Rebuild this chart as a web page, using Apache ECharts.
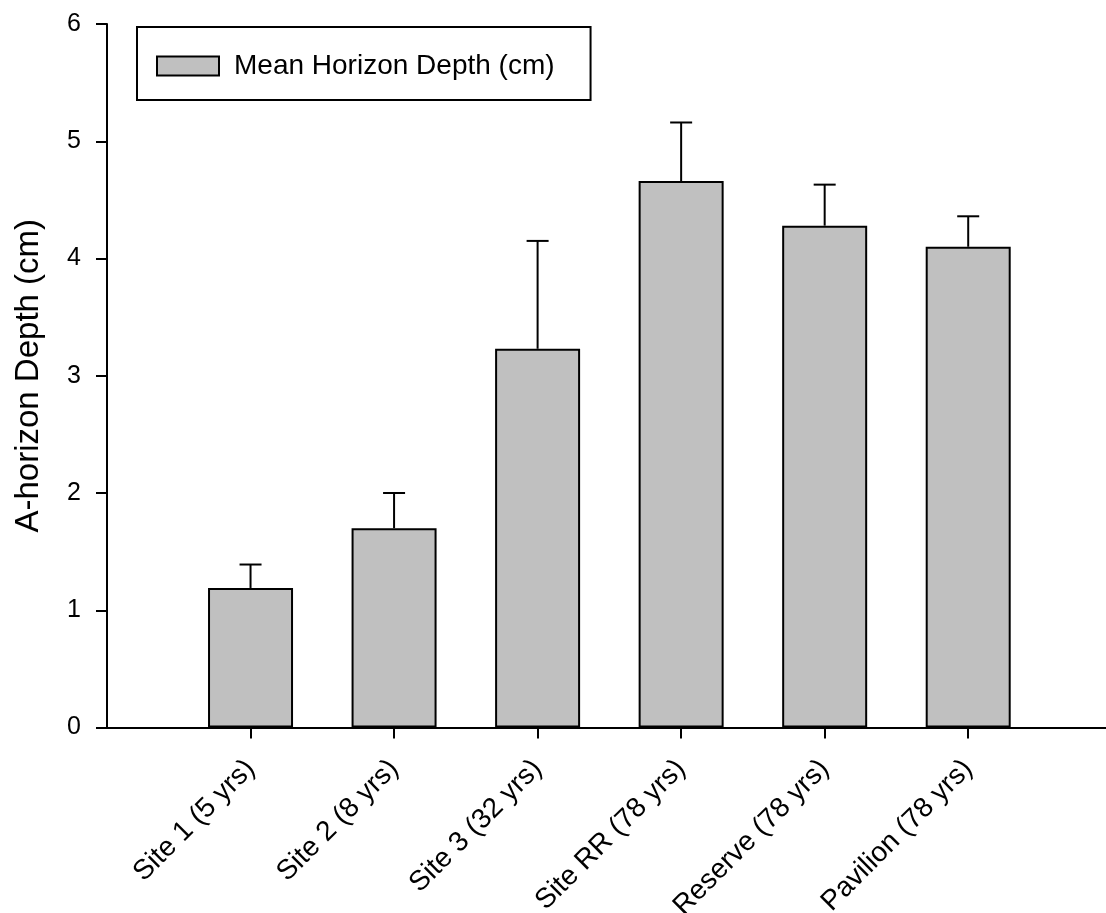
<!DOCTYPE html>
<html>
<head>
<meta charset="utf-8">
<script src="https://cdn.jsdelivr.net/npm/echarts@6/dist/echarts.min.js"></script>
<style>
html,body{margin:0;padding:0;background:#fff;}
#chart{width:1106px;height:913px;}
</style>
</head>
<body>
<div id="chart"></div>
<script>
const categories = ['Site 1 (5 yrs)', 'Site 2 (8 yrs)', 'Site 3 (32 yrs)', 'Site RR (78 yrs)', 'Reserve (78 yrs)', 'Pavilion (78 yrs)'];
const positions = [1, 2, 3, 4, 5, 6];
const means = [1.19, 1.70, 3.23, 4.66, 4.28, 4.10];
const errors = [0.20, 0.30, 0.92, 0.50, 0.35, 0.26];
const yTicks = [0, 1, 2, 3, 4, 5, 6];
const seriesName = 'Mean Horizon Depth (cm)';
const yTitle = 'A-horizon Depth (cm)';

const FONT = "'Liberation Sans', Arial, sans-serif";
const chart = echarts.init(document.getElementById('chart'), null, {renderer: 'canvas'});

const barData = positions.map((p, i) => [p, means[i]]);
const errData = positions.map((p, i) => [p, means[i], means[i] + errors[i]]);

chart.setOption({
  animation: false,
  backgroundColor: '#fff',
  grid: {left: 107, right: 0, top: 24, bottom: 185.5, containLabel: false, outerBoundsMode: 'none'},
  legend: {
    left: 137, top: 27,
    orient: 'horizontal',
    data: [{name: seriesName, icon: 'rect'}],
    itemWidth: 62, itemHeight: 19,
    borderColor: '#000', borderWidth: 2,
    padding: [25, 36, 20, 19],
    textStyle: {fontFamily: FONT, fontSize: 28, color: '#000', padding: [0, 0, 0, 10]}
  },
  xAxis: {
    type: 'value', min: 0, max: 6.96,
    splitLine: {show: false},
    axisLine: {show: true, onZero: false, lineStyle: {color: '#000', width: 2}},
    axisTick: {show: true, customValues: positions, length: 11, lineStyle: {color: '#000', width: 2}},
    axisLabel: {
      customValues: positions,
      rotate: 45, margin: 37,
      fontFamily: FONT, fontSize: 28, color: '#000',
      formatter: v => categories[positions.indexOf(Math.round(v))] || ''
    }
  },
  yAxis: {
    type: 'value', min: 0, max: 6, interval: 1,
    name: yTitle, nameLocation: 'middle', nameGap: 62,
    nameTextStyle: {fontFamily: FONT, fontSize: 33, color: '#000'},
    splitLine: {show: false},
    axisLine: {show: true, lineStyle: {color: '#000', width: 2}},
    axisTick: {show: true, length: 11, lineStyle: {color: '#000', width: 2}},
    axisLabel: {margin: 26, fontFamily: FONT, fontSize: 25, color: '#000',
      formatter: v => yTicks.includes(v) ? String(v) : ''}
  },
  series: [
    {
      name: seriesName, type: 'bar', data: barData, barWidth: 85,
      itemStyle: {color: '#c0c0c0', borderColor: '#000', borderWidth: 2}
    },
    {
      name: 'err', type: 'custom', data: errData, z: 5,
      renderItem: function (params, api) {
        const x = api.value(0);
        const p0 = api.coord([x, api.value(1)]);
        const p1 = api.coord([x, api.value(2)]);
        const hw = 11;
        return {
          type: 'group',
          children: [
            {type: 'line', shape: {x1: p0[0], y1: p0[1], x2: p1[0], y2: p1[1]}, style: {stroke: '#000', lineWidth: 2}},
            {type: 'line', shape: {x1: p1[0] - hw, y1: p1[1], x2: p1[0] + hw, y2: p1[1]}, style: {stroke: '#000', lineWidth: 2}}
          ]
        };
      }
    }
  ]
});
</script>
</body>
</html>
